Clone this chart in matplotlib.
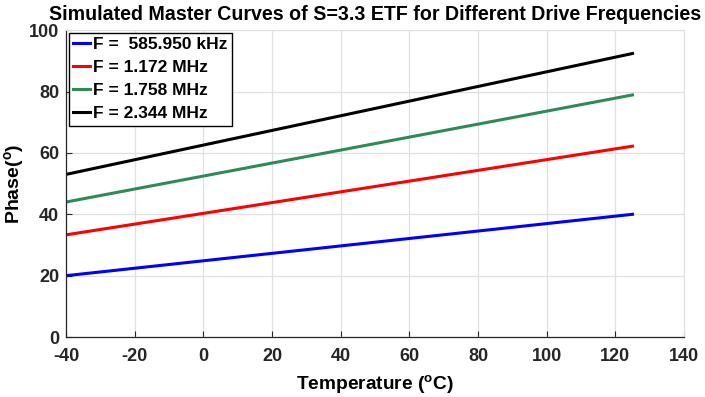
import matplotlib
matplotlib.use("Agg")
import matplotlib.pyplot as plt

plt.rcParams['font.family'] = ['Liberation Sans', 'DejaVu Sans']
plt.rcParams['axes.unicode_minus'] = False
plt.rcParams['mathtext.fontset'] = 'custom'
plt.rcParams['mathtext.rm'] = 'Liberation Sans:bold'
plt.rcParams['mathtext.bf'] = 'Liberation Sans:bold'
plt.rcParams['mathtext.it'] = 'Liberation Sans:bold'

temperature = [-40, 125]
phase_586k = [20.0, 40.0]
phase_1172 = [33.3, 62.2]
phase_1758 = [44.0, 78.9]
phase_2344 = [53.0, 92.4]
labels = ['F =  585.950 kHz', 'F = 1.172 MHz', 'F = 1.758 MHz', 'F = 2.344 MHz']
colors = ['#0000ff', '#ff0000', '#2e8b57', '#000000']
xticks = [-40, -20, 0, 20, 40, 60, 80, 100, 120, 140]
yticks = [0, 20, 40, 60, 80, 100]

fig = plt.figure(figsize=(7.05, 3.97), dpi=100)
ax = fig.add_axes([0.0936, 0.151, 0.8766, 0.773])

for y, lab, c in zip([phase_586k, phase_1172, phase_1758, phase_2344], labels, colors):
    ax.plot(temperature, y, color=c, lw=2.2, label=lab)

ax.set_xlim(-40, 140)
ax.set_ylim(0, 100)
ax.set_xticks(xticks)
ax.set_yticks(yticks)
ax.grid(True, color='#e0e0e0', lw=0.9)
ax.set_axisbelow(True)
for s in ['top', 'right']:
    ax.spines[s].set_color('#e0e0e0')
for s in ['left', 'bottom']:
    ax.spines[s].set_color('#262626')
    ax.spines[s].set_linewidth(0.9)
ax.tick_params(direction='in', length=4, width=0.8, top=False, right=False, colors='#262626')
ax.tick_params(axis='x', pad=8)
ax.tick_params(axis='y', pad=5)
for t in ax.get_xticklabels() + ax.get_yticklabels():
    t.set_fontweight('bold')
    t.set_fontsize(13)
    t.set_color('#262626')

ax.set_xlabel(r'Temperature ($^{\mathrm{o}}$C)', fontsize=13.8, fontweight='bold', labelpad=6)
ax.set_ylabel(r'Phase($^{\mathrm{o}}$)', fontsize=14, fontweight='bold', labelpad=2)
ax.set_title('Simulated Master Curves of S=3.3 ETF for Different Drive Frequencies',
             fontsize=14.1, fontweight='bold', pad=7)

leg = ax.legend(loc='upper left', prop={'weight': 'bold', 'size': 12.5}, handlelength=1.0,
                handletextpad=0.15, borderpad=0.25, labelspacing=0.45, borderaxespad=0.15,
                fancybox=False, framealpha=1, edgecolor='black')
leg.get_frame().set_linewidth(1.0)

fig.savefig('out.png', dpi=100)
